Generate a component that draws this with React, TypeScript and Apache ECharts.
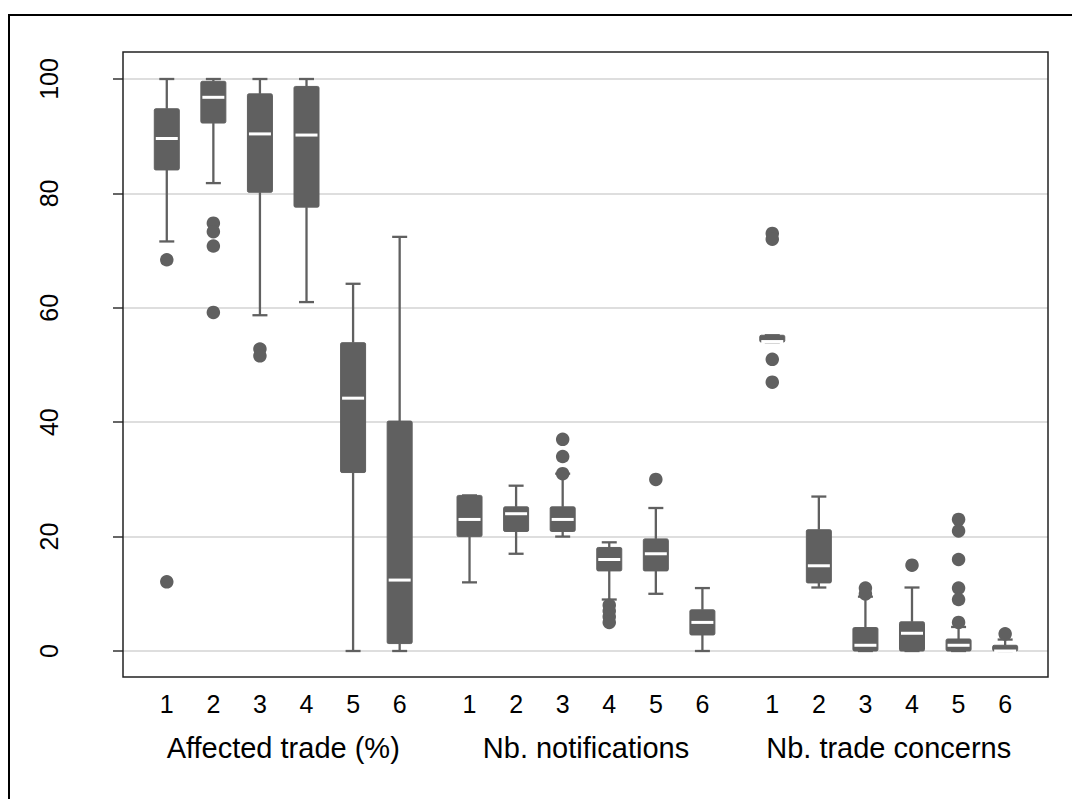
import React, { useEffect, useRef } from "react";
import * as echarts from "echarts";

// ---- data ----
const groupTitles = ["Affected trade (%)", "Nb. notifications", "Nb. trade concerns"];
const boxLabels = ["1", "2", "3", "4", "5", "6"];
const yTicks = [0, 20, 40, 60, 80, 100];

// [lower whisker, q1, median, q3, upper whisker]
const affectedTradeBoxes = [
  [71.6, 84.1, 89.6, 94.8, 100],
  [81.8, 92.3, 96.8, 99.6, 100],
  [58.7, 80.2, 90.4, 97.4, 100],
  [61.0, 77.6, 90.2, 98.7, 100],
  [0, 31.2, 44.2, 53.9, 64.2],
  [0, 1.3, 12.4, 40.2, 72.4],
];
const affectedTradeOutliers = [[68.4, 12.1], [74.8, 73.3, 70.8, 59.2], [52.8, 51.6], [], [], []];

const notificationsBoxes = [
  [12, 20, 23, 27.2, 27.2],
  [17, 20.9, 24, 25.2, 28.9],
  [20, 20.9, 23, 25.2, 31],
  [9, 14, 16, 18.1, 19],
  [10, 14, 17, 19.6, 25],
  [0, 2.8, 5, 7.2, 11],
];
const notificationsOutliers = [[], [], [37, 34, 31], [8, 7, 6, 5], [30], []];

const concernsBoxes = [
  [54, 54, 54.1, 55.2, 55.2],
  [11.1, 11.9, 14.9, 21.2, 27],
  [0, 0, 1, 4.1, 9.5],
  [0, 0, 3.1, 5.1, 11.1],
  [0, 0, 1, 2.1, 4.2],
  [0, 0, 0, 1, 2],
];
const concernsOutliers = [[73, 72, 51, 47], [], [11, 10], [15], [23, 21, 16, 11, 9, 5], [3]];

const allBoxes = [affectedTradeBoxes, notificationsBoxes, concernsBoxes];
const allOutliers = [affectedTradeOutliers, notificationsOutliers, concernsOutliers];

// ---- layout constants ----
const groupStep = 6.5;
const boxColor = "#606060";
const fontFamily = "'Liberation Sans', Arial, Helvetica, sans-serif";

function posOf(g: number, i: number) {
  return i + 1 + g * groupStep;
}

export default function App() {
  const ref = useRef<HTMLDivElement>(null);

  useEffect(() => {
    if (!ref.current) return;
    const chart = echarts.init(ref.current, undefined, { renderer: "svg" });

    const boxData: number[][] = [];
    const outlierData: number[][] = [];
    const labelPositions: number[] = [];
    const labelMap: Record<string, string> = {};
    allBoxes.forEach((boxes, g) => {
      boxes.forEach((b, i) => {
        const p = posOf(g, i);
        boxData.push([p, ...b]);
        labelPositions.push(p);
        labelMap[String(p)] = boxLabels[i];
        allOutliers[g][i].forEach((v) => outlierData.push([p, v]));
      });
    });
    const titlePositions = groupTitles.map((_, g) => posOf(g, 0) + 2.5);
    const titleMap: Record<string, string> = {};
    titlePositions.forEach((p, g) => (titleMap[String(p)] = groupTitles[g]));

    const xMin = 0.06;
    const xMax = 19.92;

    const option: any = {
      animation: false,
      backgroundColor: "#fff",
      grid: { left: 123, right: 24, top: 79, bottom: 148, containLabel: false },
      xAxis: [
        {
          type: "value",
          min: xMin,
          max: xMax,
          position: "bottom",
          axisLine: { show: false },
          axisTick: { show: false },
          splitLine: { show: false },
          axisLabel: {
            customValues: labelPositions,
            formatter: (v: number) => labelMap[String(v)] ?? "",
            margin: 40,
            fontSize: 25,
            color: "#000",
            fontFamily,
          },
        },
        {
          type: "value",
          min: xMin,
          max: xMax,
          position: "bottom",
          axisLine: { show: false },
          axisTick: { show: false },
          splitLine: { show: false },
          axisLabel: {
            customValues: titlePositions,
            formatter: (v: number) => titleMap[String(v)] ?? "",
            margin: 82,
            fontSize: 29,
            color: "#000",
            fontFamily,
          },
        },
      ],
      yAxis: {
        type: "value",
        min: yTicks[0],
        max: yTicks[yTicks.length - 1],
        interval: 20,
        axisLine: { show: false },
        axisTick: { show: true, length: 10, lineStyle: { color: "#333", width: 1.5 } },
        splitLine: { show: true, lineStyle: { color: "#dedede", width: 2 } },
        axisLabel: {
          rotate: 90,
          margin: 62,
          fontSize: 25,
          color: "#000",
          fontFamily,
        },
      },
      graphic: [
        {
          type: "rect",
          shape: { x: 9, y: 15, width: 1200, height: 1000 },
          style: { fill: "none", stroke: "#000", lineWidth: 2 },
          silent: true,
          z: 100,
        },
        {
          type: "rect",
          shape: { x: 123, y: 52, width: 925, height: 625 },
          style: { fill: "none", stroke: "#222", lineWidth: 1.5 },
          silent: true,
          z: 100,
        },
      ],
      series: [
        {
          type: "custom",
          xAxisIndex: 0,
          encode: { x: 0, y: [1, 2, 3, 4, 5] },
          data: boxData,
          renderItem: (params: any, api: any) => {
            const x = api.value(0);
            const low = api.coord([x, api.value(1)]);
            const q1 = api.coord([x, api.value(2)]);
            const med = api.coord([x, api.value(3)]);
            const q3 = api.coord([x, api.value(4)]);
            const high = api.coord([x, api.value(5)]);
            const cx = low[0];
            const halfBox = 12.5;
            const halfCap = 7.5;
            const ls = { stroke: boxColor, lineWidth: 2.3 };
            return {
              type: "group",
              children: [
                { type: "line", shape: { x1: cx, y1: high[1], x2: cx, y2: q3[1] }, style: ls },
                { type: "line", shape: { x1: cx, y1: q1[1], x2: cx, y2: low[1] }, style: ls },
                { type: "line", shape: { x1: cx - halfCap, y1: high[1], x2: cx + halfCap, y2: high[1] }, style: ls },
                { type: "line", shape: { x1: cx - halfCap, y1: low[1], x2: cx + halfCap, y2: low[1] }, style: ls },
                {
                  type: "rect",
                  shape: { x: cx - halfBox, y: q3[1], width: halfBox * 2, height: Math.max(q1[1] - q3[1], 1), r: 1.5 },
                  style: { fill: boxColor, stroke: boxColor, lineWidth: 1 },
                },
                {
                  type: "line",
                  shape: { x1: cx - halfBox + 1.5, y1: med[1], x2: cx + halfBox - 1.5, y2: med[1] },
                  style: { stroke: "#fff", lineWidth: 3 },
                },
              ],
            };
          },
          z: 3,
        },
        {
          type: "scatter",
          xAxisIndex: 0,
          data: outlierData,
          symbol: "circle",
          symbolSize: 13.5,
          clip: false,
          itemStyle: { color: boxColor, opacity: 1 },
          z: 4,
        },
      ],
    };

    chart.setOption(option);
    return () => chart.dispose();
  }, []);

  return (
    <div
      ref={ref}
      style={{ position: "fixed", left: 0, top: 0, width: 1072, height: 799, background: "#fff" }}
    />
  );
}
